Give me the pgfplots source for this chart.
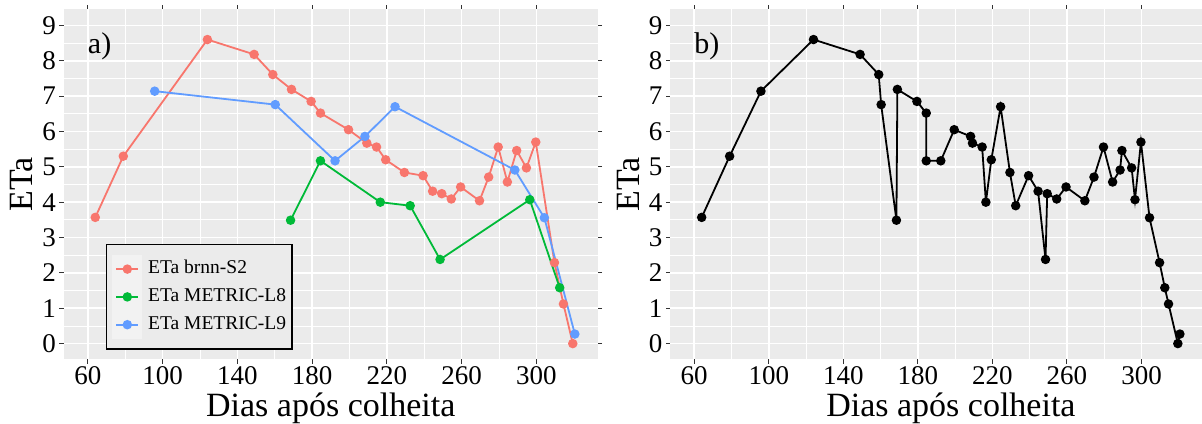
\documentclass[border=0pt]{standalone}
\usepackage{fontspec}
\setmainfont{Liberation Serif}
\usepackage{pgfplots}
\pgfplotsset{compat=1.18}
\usepackage{pgfplotstable}

\definecolor{ggbg}{HTML}{EBEBEB}
\definecolor{ggkey}{HTML}{F2F2F2}
\definecolor{ggred}{HTML}{F8766D}
\definecolor{gggreen}{HTML}{00BA38}
\definecolor{ggblue}{HTML}{619CFF}
\definecolor{ggtick}{HTML}{333333}

% ETa estimated with brnn (Sentinel-2)
\pgfplotstableread{
d eta
64    3.57
79    5.30
124   8.60
149   8.18
159   7.61
169   7.19
179.5 6.85
184.5 6.52
199.5 6.05
209.3 5.67
214.5 5.56
219.4 5.20
229.4 4.84
239.4 4.75
244.5 4.31
249.4 4.24
254.5 4.09
259.5 4.43
269.6 4.04
274.5 4.71
279.6 5.56
284.5 4.57
289.5 5.46
294.7 4.97
299.7 5.70
309.7 2.29
314.5 1.12
319.5 0.00
}\brnn

% ETa from METRIC, Landsat 8
\pgfplotstableread{
d eta
168.5 3.49
184.5 5.17
216.5 4.00
232.5 3.90
248.5 2.38
296.5 4.07
312.5 1.58
}\metricEight

% ETa from METRIC, Landsat 9
\pgfplotstableread{
d eta
95.8  7.14
160.3 6.76
192.3 5.17
208.3 5.86
224.4 6.70
288.5 4.91
304.3 3.56
320.6 0.27
}\metricNine

% all observations merged and sorted by day
\pgfplotstableread{
d eta
64    3.57
79    5.30
95.8  7.14
124   8.60
149   8.18
159   7.61
160.3 6.76
168.5 3.49
169   7.19
179.5 6.85
184.5 6.52
184.5 5.17
192.3 5.17
199.5 6.05
208.3 5.86
209.3 5.67
214.5 5.56
216.5 4.00
219.4 5.20
224.4 6.70
229.4 4.84
232.5 3.90
239.4 4.75
244.5 4.31
248.5 2.38
249.4 4.24
254.5 4.09
259.5 4.43
269.6 4.04
274.5 4.71
279.6 5.56
284.5 4.57
288.5 4.91
289.5 5.46
294.7 4.97
296.5 4.07
299.7 5.70
304.3 3.56
309.7 2.29
312.5 1.58
314.5 1.12
319.5 0.00
320.6 0.27
}\merged

\pgfplotsset{
  ggpanel/.style={
    scale only axis,
    height=350pt,
    xmin=47, xmax=333, ymin=-0.45, ymax=9.45,
    xtick={60,100,140,180,220,260,300},
    xticklabels={60,100,140,180,220,260,300},
    ytick={0,1,2,3,4,5,6,7,8,9},
    yticklabels={0,1,2,3,4,5,6,7,8,9},
    minor x tick num=1, minor y tick num=1,
    axis background/.style={fill=ggbg},
    axis line style={draw=none},
    grid=both,
    major grid style={white, line width=1.6pt},
    minor grid style={white, line width=0.8pt},
    tick align=outside,
    major tick length=4pt, minor tick length=0pt,
    major tick style={ggtick, line width=1pt},
    tick label style={font=\fontsize{27}{30}\selectfont, black},
    xlabel={Dias após colheita},
    ylabel={ETa},
    label style={font=\fontsize{34}{38}\selectfont},
    ylabel style={at={(axis description cs:-0.0776,0.5)}, anchor=center},
  },
  ggline/.style={line width=1.8pt, mark=*, mark size=3.8pt,
    mark options={solid, fill=#1, draw=#1}, color=#1},
}

\begin{document}
\begin{tikzpicture}
\useasboundingbox (0,0) rectangle (1202pt,423pt);

\begin{axis}[ggpanel, at={(63.5pt,63.5pt)}, anchor=south west, width=534.5pt,
  xlabel style={at={(axis description cs:0.5,-0.162)}, anchor=base},
  legend cell align=left,
  legend style={at={(0.079,0.33)}, anchor=north west, draw=black,
    line width=1.4pt, fill=ggbg,
    font=\fontsize{19.5}{22}\selectfont,
    inner xsep=6pt, inner ysep=10.5pt, row sep=0pt, column sep=6pt,
    nodes={inner sep=0pt, text height=14pt, text depth=5pt}},
  legend image code/.code={
    \fill[ggkey] (-3pt,-13pt) rectangle (25pt,13pt);
    \draw[mark repeat=2,mark phase=2] plot coordinates {(0pt,0pt)(11pt,0pt)(22pt,0pt)};},
]
\addplot[ggline=ggred] table[x=d, y=eta] {\brnn};
\addlegendentry{ETa brnn-S2}
\addplot[ggline=gggreen] table[x=d, y=eta] {\metricEight};
\addlegendentry{ETa METRIC-L8}
\addplot[ggline=ggblue] table[x=d, y=eta] {\metricNine};
\addlegendentry{ETa METRIC-L9}
\node[anchor=west, inner sep=0pt, font=\fontsize{30}{34}\selectfont] at (axis cs:60,8.40) {a)};
\end{axis}

\begin{axis}[ggpanel, at={(670pt,63.5pt)}, anchor=south west, width=533pt,
  xlabel style={at={(axis description cs:0.527,-0.162)}, anchor=base}]
\addplot[ggline=black] table[x=d, y=eta] {\merged};
\node[anchor=west, inner sep=0pt, font=\fontsize{30}{34}\selectfont] at (axis cs:60,8.40) {b)};
\end{axis}
\end{tikzpicture}
\end{document}
